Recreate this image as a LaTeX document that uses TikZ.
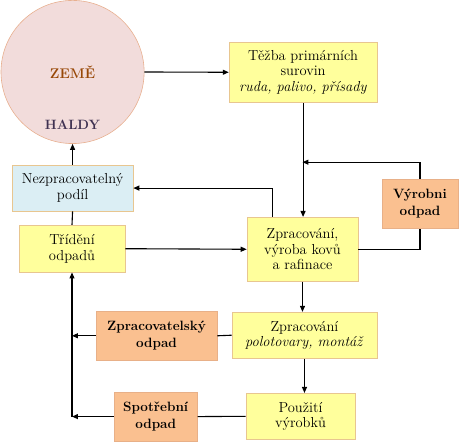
\documentclass[tikz,border=0pt]{standalone}
\usetikzlibrary{arrows.meta}

\definecolor{zluta}{HTML}{FFFF9C}
\definecolor{zlutaokraj}{HTML}{E8C690}
\definecolor{oranz}{HTML}{FAC090}
\definecolor{oranzokraj}{HTML}{E8B088}
\definecolor{modra}{HTML}{DBEEF4}
\definecolor{ruzova}{HTML}{F2DCDB}
\definecolor{ruzovaokraj}{HTML}{E8B090}
\definecolor{hneda}{HTML}{984807}
\definecolor{fialova}{HTML}{3F3151}

\begin{document}
\begin{tikzpicture}[
	line width=1.1pt,
	>={Triangle[length=6pt,width=5pt]},
	font=\fontsize{14.5}{15.5}\selectfont,
	box/.style={
		draw=zlutaokraj, fill=zluta,
		line width=0.6pt,
		align=center, inner sep=2pt
	},
	odpad/.style={
		draw=oranzokraj, fill=oranz,
		line width=0.6pt,
		align=center, inner sep=2pt,
		font=\fontsize{13.5}{17}\selectfont\bfseries
	},
	zbytek/.style={
		draw=zlutaokraj, fill=modra,
		line width=0.6pt,
		align=center, inner sep=2pt
	},
	zeme/.style={
		draw=ruzovaokraj, fill=ruzova,
		line width=0.6pt,
		circle, minimum size=5.03cm,
		text=hneda,
		font=\fontsize{14}{16}\selectfont\bfseries
	}
	]
	\useasboundingbox (0,0) rectangle (16.13,15.54);
	
	\node[zeme] (zem) at (2.55,13.01) {ZEMĚ};
	\node[text=fialova, font=\fontsize{13.5}{15}\selectfont\bfseries] (haldy) at (2.55,11.14) {HALDY};
	
	\node[box, minimum width=5.20cm, minimum height=2.14cm] (tezba) at (10.65,13.00)
		{Těžba primárních\\surovin\\\textit{ruda, palivo, přísady}};
	\node[zbytek, minimum width=4.25cm, minimum height=1.62cm] (nezpr) at (2.55,8.93)
		{Nezpracovatelný\\podíl};
	\node[box, minimum width=3.73cm, minimum height=1.65cm] (trid) at (2.53,6.80)
		{Třídění\\odpadů};
	\node[box, minimum width=3.90cm, minimum height=2.25cm] (kovy) at (10.63,6.78)
		{Zpracování,\\výroba kovů\\a rafinace};
	\node[odpad, minimum width=2.67cm, minimum height=1.72cm] (vyrob) at (14.76,8.38)
		{Výrobni\\odpad};
	\node[odpad, minimum width=4.25cm, minimum height=1.72cm] (zpodp) at (5.50,3.74)
		{Zpracovatelský\\odpad};
	\node[box, minimum width=5.10cm, minimum height=1.62cm] (polot) at (10.70,3.76)
		{Zpracování\\\textit{polotovary, montáž}};
	\node[box, minimum width=3.83cm, minimum height=1.62cm] (pouz) at (10.56,0.91)
		{Použití\\výrobků};
	\node[odpad, minimum width=2.92cm, minimum height=1.72cm] (spodp) at (5.47,0.90)
		{Spotřební\\odpad};
	
	\coordinate (navrat) at (10.63,9.84);
	\coordinate (kmen1) at (trid.south |- zpodp.west);
	\coordinate (kmen2) at (trid.south |- spodp.west);
	
	% hlavni tok
	\draw[->] (zem.east) -- (tezba.west);
	\draw[->] (tezba.south) -- (tezba.south |- kovy.north);
	\draw[->] (kovy.south) -- (kovy.south |- polot.north);
	\draw[->] (polot.south) -- (polot.south |- pouz.north);
	
	% vyrobni odpad
	\draw (kovy.east) -| (vyrob.south);
	\draw[->] (vyrob.north) |- (navrat);
	
	% trideni
	\draw[->] ([xshift=-1.04cm]kovy.north) |- (nezpr.east);
	\draw[->] (trid.east) -- (kovy.west);
	\draw (trid.north) -- (nezpr.south);
	\draw[->] (nezpr.north) -- (zem.south);
	
	% odpady zpet
	\draw (polot.west) -- (zpodp.east);
	\draw[->] (zpodp.west) -- (kmen1);
	\draw (pouz.west) -- (spodp.east);
	\draw[->] (spodp.west) -- (kmen2);
	\draw[->] (kmen2) -- (trid.south);
	
\end{tikzpicture}
\end{document}
